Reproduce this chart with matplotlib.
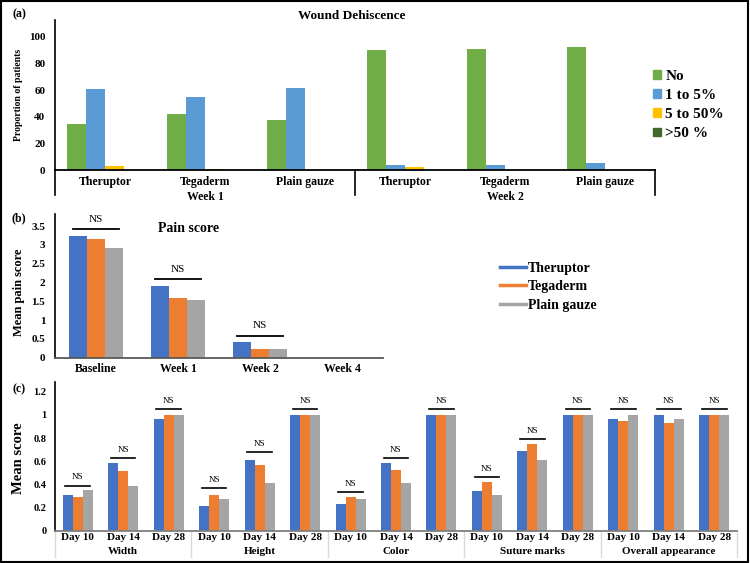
import numpy as np
import matplotlib.pyplot as plt
import matplotlib.transforms as mtransforms
from matplotlib.patches import Patch, Rectangle
from matplotlib.lines import Line2D

plt.rcParams['font.family'] = ['Liberation Serif', 'DejaVu Serif']

# (a) wound dehiscence, % of patients
dressings = ["Theruptor", "Tegaderm", "Plain gauze"]
weeks_a = ["Week 1", "Week 2"]
dehis_levels = ["No", "1 to 5%", "5 to 50%", ">50 %"]
dehis_no = [34.5, 42, 37.5, 90.5, 91, 92.5]
dehis_1_5 = [61, 55, 61.5, 3.5, 3.5, 5]
dehis_5_50 = [3, 1, 0, 2.5, 0, 0]
dehis_over50 = [0, 0, 0, 0, 0, 0]

# (b) mean pain score
pain_times = ["Baseline", "Week 1", "Week 2", "Week 4"]
pain_theruptor = [3.24, 1.91, 0.41, 0]
pain_tegaderm = [3.16, 1.59, 0.23, 0]
pain_gauze = [2.92, 1.53, 0.22, 0]
pain_ns = [3.41, 2.09, 0.58]

# (c) scar scores
days = ["Day 10", "Day 14", "Day 28"]
features = ["Width", "Height", "Color", "Suture marks", "Overall appearance"]
scar_theruptor = [0.31, 0.585, 0.965, 0.21, 0.61, 1.0, 0.235, 0.585, 1.0,
                  0.34, 0.685, 1.0, 0.965, 1.0, 1.0]
scar_tegaderm = [0.29, 0.52, 1.0, 0.31, 0.57, 1.0, 0.29, 0.525, 1.0,
                 0.42, 0.745, 1.0, 0.945, 0.935, 1.0]
scar_gauze = [0.355, 0.39, 1.0, 0.27, 0.41, 1.0, 0.27, 0.41, 1.0,
              0.305, 0.61, 1.0, 1.0, 0.965, 1.0]
scar_ns = [0.39, 0.63, 1.05, 0.37, 0.68, 1.05, 0.335, 0.63, 1.05,
           0.46, 0.795, 1.05, 1.05, 1.05, 1.05]

dehis_colors = ["#70AD47", "#5B9BD5", "#FFC000", "#43682B"]
grp_colors = ["#4472C4", "#ED7D31", "#A5A5A5"]
groups = ["Theruptor", "Tegaderm", "Plain gauze"]

W, H = 750, 563
fig = plt.figure(figsize=(7.5, 5.63), dpi=100)


def px_axes(x0, x1, y_top, y_bot):
    return fig.add_axes([x0 / W, 1 - y_bot / H, (x1 - x0) / W, (y_bot - y_top) / H])


def px_text(x, y, s, **kw):
    fig.text(x / W, 1 - y / H, s, ha="center", va="center", fontweight="bold", **kw)


def style(ax, bottom_color):
    for s in ["top", "right"]:
        ax.spines[s].set_visible(False)
    ax.spines["left"].set_color("black")
    ax.spines["left"].set_linewidth(1.2)
    ax.spines["bottom"].set_color(bottom_color)
    ax.spines["bottom"].set_linewidth(1.3)
    ax.tick_params(length=0)
    for t in ax.get_yticklabels() + ax.get_xticklabels():
        t.set_fontweight("bold")


# ---- panel (a)
ax = px_axes(55, 655, 20, 170)
x = np.arange(len(dehis_no))
bw = 0.19
for i, vals in enumerate([dehis_no, dehis_1_5, dehis_5_50, dehis_over50]):
    ax.bar(x + (i - 1.5) * bw, vals, bw, color=dehis_colors[i])
ax.set_xlim(-0.5, len(x) - 0.5)
ax.set_ylim(0, 112.7)
ax.set_yticks(np.arange(0, 101, 20))
ax.set_xticks(x)
ax.set_xticklabels(dressings * 2, fontsize=8.5)
ax.tick_params(axis="y", labelsize=8, pad=7)
ax.tick_params(axis="x", pad=4)
style(ax, "black")
trans = mtransforms.blended_transform_factory(ax.transData, ax.transAxes)
for sx in [-0.5, 2.5, 5.5]:
    ax.plot([sx, sx], [0, -0.167], color="black", lw=1.2, transform=trans, clip_on=False)
for k, wk in enumerate(weeks_a):
    ax.text(1 + 3 * k, -0.18, wk, transform=trans, ha="center", va="center",
            fontsize=8.5, fontweight="bold")
px_text(19, 95, "Proportion of patients", fontsize=7, rotation=90)
px_text(352, 16, "Wound Dehiscence", fontsize=9.5)
fig.legend([Patch(color=c) for c in dehis_colors], dehis_levels,
           loc="upper left", bbox_to_anchor=(653 / W, 1 - 70 / H), frameon=False,
           prop={"size": 11, "weight": "bold"}, handlelength=0.5, handleheight=0.5,
           handletextpad=0.3, labelspacing=0.4, borderpad=0, borderaxespad=0)

# ---- panel (b)
ax = px_axes(55, 383, 214, 357.7)
x = np.arange(len(pain_times))
bw = 0.217
for i, vals in enumerate([pain_theruptor, pain_tegaderm, pain_gauze]):
    ax.bar(x + (i - 1) * bw, vals, bw, color=grp_colors[i])
for i, lvl in enumerate(pain_ns):
    ax.plot([i - 0.28, i + 0.28], [lvl, lvl], color="black", lw=1.3)
    ax.annotate("NS", (i, lvl), xytext=(0, 4), textcoords="offset points",
                ha="center", va="bottom", fontsize=8)
ax.set_xlim(-0.5, len(x) - 0.5)
ax.set_ylim(0, 3.82)
ax.set_yticks(np.arange(0, 3.6, 0.5))
ax.set_yticklabels(["0", "0.5", "1", "1.5", "2", "2.5", "3", "3.5"])
ax.set_xticks(x)
ax.set_xticklabels(pain_times, fontsize=8.5)
ax.tick_params(axis="y", labelsize=8, pad=7)
ax.tick_params(axis="x", pad=4)
style(ax, "#595959")
px_text(19.5, 292, "Mean pain score", fontsize=9, rotation=90)
px_text(189, 228, "Pain score", fontsize=10)
fig.legend([Line2D([], [], color=c, lw=2.5) for c in grp_colors], groups,
           loc="upper left", bbox_to_anchor=(500 / W, 1 - 262 / H), frameon=False,
           prop={"size": 10, "weight": "bold"}, handlelength=1.9,
           handletextpad=0.1, labelspacing=0.38, borderpad=0, borderaxespad=0)

# ---- panel (c)
ax = px_axes(55, 737, 382, 530.7)
x = np.arange(len(scar_theruptor))
bw = 0.22
for i, vals in enumerate([scar_theruptor, scar_tegaderm, scar_gauze]):
    ax.bar(x + (i - 1) * bw, vals, bw, color=grp_colors[i])
for i, lvl in enumerate(scar_ns):
    ax.plot([i - 0.27, i + 0.27], [lvl, lvl], color="black", lw=1.2)
    ax.annotate("NS", (i, lvl), xytext=(0, 3), textcoords="offset points",
                ha="center", va="bottom", fontsize=6.5)
ax.set_xlim(-0.5, len(x) - 0.5)
ax.set_ylim(0, 1.285)
ax.set_yticks(np.arange(0, 1.21, 0.2))
ax.set_yticklabels(["0", "0.2", "0.4", "0.6", "0.8", "1", "1.2"])
ax.set_xticks(x)
ax.set_xticklabels(days * len(features), fontsize=8)
ax.tick_params(axis="y", labelsize=7.5, pad=6)
ax.tick_params(axis="x", pad=2)
style(ax, "#7F7F7F")
trans = mtransforms.blended_transform_factory(ax.transData, ax.transAxes)
for k in range(len(features) + 1):
    sx = 3 * k - 0.5
    ax.plot([sx, sx], [0, -0.18], color="#D9D9D9", lw=1, transform=trans, clip_on=False)
for k, f in enumerate(features):
    ax.text(3 * k + 1, -0.143, f, transform=trans, ha="center", va="center",
            fontsize=8, fontweight="bold")
px_text(18, 458, "Mean score", fontsize=10.5, rotation=90)

# panel tags
for tag, (tx, ty) in {"(a)": (19, 14), "(b)": (19, 218), "(c)": (19, 389)}.items():
    px_text(tx, ty, tag, fontsize=8.5)

fig.patches.append(Rectangle((0.001, 0.002), 0.996, 0.996, transform=fig.transFigure,
                             fill=False, ec="black", lw=1.5))

fig.savefig("out.png", dpi=100)
